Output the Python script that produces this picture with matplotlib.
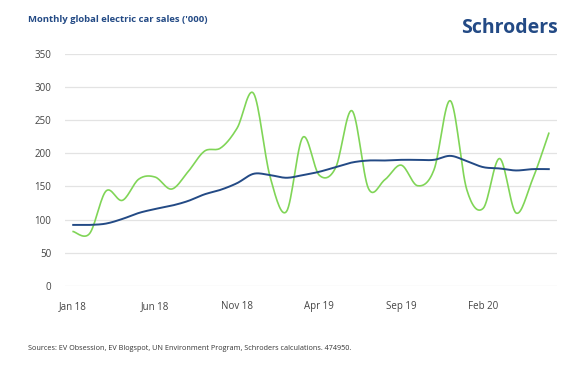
import numpy as np
import pandas as pd
import matplotlib
matplotlib.use("Agg")
import matplotlib.pyplot as plt

# monthly data, Jan 2018 - Jun 2020
months = pd.date_range("2018-01-01", periods=30, freq="MS").strftime("%b %y").tolist()
sales = [82, 79, 143, 129, 161, 164, 146, 172, 203, 208, 238, 290, 165, 112, 224,
         167, 178, 264, 147, 160, 182, 151, 175, 279, 145, 117, 192, 110, 160, 230]
trend = [92, 92, 94, 101, 110, 116, 121, 128, 138, 145, 155, 169, 167, 163, 167,
         172, 179, 186, 189, 189, 190, 190, 190, 196, 188, 179, 177, 174, 176, 176]
tick_labels = ["Jan 18", "Jun 18", "Nov 18", "Apr 19", "Sep 19", "Feb 20"]
y_ticks = [0, 50, 100, 150, 200, 250, 300, 350]

NAVY = "#234a85"
GREEN = "#80d557"
TEXT = "#444444"


def smooth(x, y, n=16):
    # Catmull-Rom curve through every point (like a spreadsheet "smoothed line")
    pts = np.column_stack([x, y]).astype(float)
    pad = np.vstack([pts[0], pts, pts[-1]])
    t = np.linspace(0, 1, n, endpoint=False)[:, None]
    segs = []
    for k in range(len(pts) - 1):
        p0, p1, p2, p3 = pad[k], pad[k + 1], pad[k + 2], pad[k + 3]
        segs.append(0.5 * (2 * p1 + (p2 - p0) * t
                           + (2 * p0 - 5 * p1 + 4 * p2 - p3) * t ** 2
                           + (3 * p1 - p0 - 3 * p2 + p3) * t ** 3))
    segs.append(pts[-1:])
    out = np.vstack(segs)
    return out[:, 0], out[:, 1]


fig = plt.figure(figsize=(5.85, 3.7), dpi=100)
ax = fig.add_axes([65 / 585, 1 - 286 / 370, 492 / 585, (286 - 53.6) / 370])

idx = np.arange(len(months))
gx, gy = smooth(idx, sales)
bx, by = smooth(idx, trend)
ax.plot(gx, gy, color=GREEN, lw=1.2, zorder=3)
ax.plot(bx, by, color=NAVY, lw=1.4, zorder=4)

ax.set_xlim(-0.5, len(months) - 0.5)
ax.set_ylim(0, 350)
ax.set_yticks(y_ticks)
ax.set_xticks([months.index(m) for m in tick_labels])
ax.set_xticklabels(tick_labels)
ax.grid(axis="y", color="#e3e3e3", lw=0.9)
ax.set_axisbelow(True)
for s in ax.spines.values():
    s.set_visible(False)
ax.tick_params(length=0, labelsize=7, colors=TEXT, labelfontfamily="Open Sans")
ax.tick_params(axis="y", pad=10)
ax.tick_params(axis="x", pad=11)

fig.text(28 / 585, 1 - 20 / 370, "Monthly global electric car sales ('000)",
         fontsize=6.8, fontweight="bold", color=NAVY, family="Open Sans", va="center")
fig.text(558 / 585, 1 - 28 / 370, "Schroders", fontsize=14, fontweight="bold",
         color=NAVY, family="Open Sans", ha="right", va="center")
fig.text(28 / 585, 1 - 348 / 370,
         "Sources: EV Obsession, EV Blogspot, UN Environment Program, Schroders calculations. 474950.",
         fontsize=5.2, color="#333333", family="Open Sans", va="center")

fig.savefig("out.png", dpi=100)
